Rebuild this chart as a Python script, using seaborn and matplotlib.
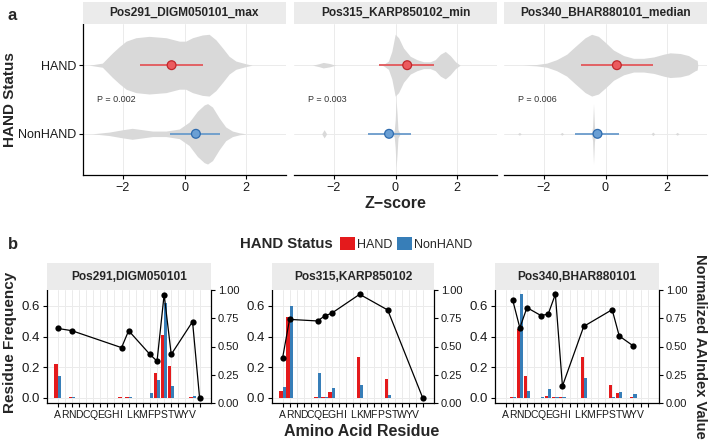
import numpy as np
import pandas as pd
import matplotlib.pyplot as plt
import seaborn as sns
from matplotlib.patches import Patch

sns.set_theme(style="white")
plt.rcParams['font.family'] = ['Liberation Sans', 'DejaVu Sans']

W, H = 710, 442

# ---------------- panel a: z-score violins ----------------
features = ["Pos291_DIGM050101_max", "Pos315_KARP850102_min", "Pos340_BHAR880101_median"]
p_values = ["P = 0.002", "P = 0.003", "P = 0.006"]

# violin outlines: z position and half width (row units)
hand_z = [
    [-3.1, -2.67, -2.34, -2.12, -1.9, -1.58, -1.15, -0.6, -0.17, 0.04, 0.26, 0.58, 0.8, 1.02, 1.24, 1.45, 1.67, 2.0, 2.2],
    [-2.7, -2.5, -2.35, -2.15, -1.95, -0.45, -0.39, -0.23, -0.12, -0.01, 0.1, 0.26, 0.48, 0.7, 0.91, 1.13, 1.29, 1.46, 1.62, 1.78, 1.95, 2.1],
    [-2.67, -2.24, -1.91, -1.59, -1.26, -0.99, -0.66, -0.45, -0.23, 0.0, 0.26, 0.59, 0.91, 1.24, 1.57, 1.89, 2.1, 2.43, 2.7, 2.92, 2.98, 3.0],
]
hand_w = [
    [0, 0.03, 0.18, 0.27, 0.35, 0.40, 0.42, 0.40, 0.35, 0.35, 0.40, 0.44, 0.45, 0.37, 0.25, 0.13, 0.06, 0.02, 0],
    [0, 0.02, 0.04, 0.025, 0, 0, 0.01, 0.06, 0.2, 0.45, 0.40, 0.25, 0.13, 0.08, 0.05, 0.05, 0.08, 0.16, 0.2, 0.14, 0.05, 0],
    [0, 0.01, 0.03, 0.08, 0.16, 0.27, 0.40, 0.45, 0.42, 0.33, 0.22, 0.14, 0.10, 0.10, 0.12, 0.16, 0.18, 0.17, 0.14, 0.08, 0.07, 0],
]
nonhand_z = [
    [-3.0, -2.45, -2.0, -1.7, -1.37, -1.04, -0.6, -0.17, 0.15, 0.42, 0.64, 0.75, 0.91, 1.13, 1.34, 1.56, 1.78, 2.0],
    [-2.4, -2.32, -2.24, -0.15, -0.08, -0.04, -0.01, 0.02, 0.05, 0.08, 0.14, 0.2],
    [-2.86, -2.8, -2.74, -1.48, -1.42, -1.36, -0.5, -0.45, -0.42, -0.39, -0.36, -0.33, -0.28,
     1.48, 1.54, 1.6, 2.27, 2.33, 2.39],
]
nonhand_w = [
    [0, 0.025, 0.06, 0.08, 0.06, 0.04, 0.04, 0.07, 0.17, 0.33, 0.42, 0.44, 0.39, 0.23, 0.10, 0.04, 0.015, 0],
    [0, 0.06, 0, 0, 0.01, 0.05, 0.2, 0.49, 0.3, 0.06, 0.01, 0],
    [0, 0.02, 0, 0, 0.02, 0, 0, 0.02, 0.1, 0.44, 0.12, 0.02, 0,
     0, 0.025, 0, 0, 0.02, 0],
]

# point estimate with interval
hand_mid = [-0.42, 0.38, 0.37]
hand_lo = [-1.44, -0.53, -0.80]
hand_hi = [0.61, 1.26, 1.53]
nonhand_mid = [0.37, -0.21, -0.26]
nonhand_lo = [-0.48, -0.91, -0.98]
nonhand_hi = [1.16, 0.50, 0.43]

# ---------------- panel b: residue frequencies ----------------
residues = list("ARNDCQEGHILKMFPSTWYV") + ["-"]
residue_labels = list("ARNDCQEGHILKMFPSTWYV") + [""]
sites = ["Pos291,DIGM050101", "Pos315,KARP850102", "Pos340,BHAR880101"]

hand_freq = [
    {"A": 0.22, "N": 0.004, "I": 0.004, "L": 0.003, "F": 0.002, "P": 0.16, "S": 0.41, "T": 0.21, "V": 0.004},
    {"A": 0.045, "R": 0.53, "Q": 0.003, "E": 0.004, "G": 0.039, "K": 0.267, "S": 0.125},
    {"R": 0.003, "N": 0.45, "D": 0.145, "Q": 0.002, "E": 0.013, "G": 0.003, "H": 0.003,
     "K": 0.267, "S": 0.084, "T": 0.03, "Y": 0.003},
]
nonhand_freq = [
    {"A": 0.14, "N": 0.003, "I": 0.002, "L": 0.004, "F": 0.032, "P": 0.12, "S": 0.62, "T": 0.08, "V": 0.015},
    {"A": 0.071, "R": 0.60, "Q": 0.161, "E": 0.004, "G": 0.067, "K": 0.084, "S": 0.019},
    {"R": 0.003, "N": 0.68, "D": 0.045, "Q": 0.004, "E": 0.06, "G": 0.003, "H": 0.004,
     "K": 0.129, "S": 0.003, "T": 0.037, "Y": 0.026},
]
aaindex = [
    {"A": 0.66, "N": 0.64, "I": 0.49, "L": 0.64, "F": 0.43, "P": 0.37, "S": 0.96, "T": 0.43, "V": 0.72, "-": 0.04},
    {"A": 0.395, "R": 0.74, "Q": 0.726, "E": 0.77, "G": 0.794, "K": 0.962, "S": 0.823, "-": 0.044},
    {"R": 0.909, "N": 0.665, "D": 0.844, "Q": 0.773, "E": 0.788, "G": 0.962, "H": 0.15,
     "K": 0.678, "S": 0.826, "T": 0.593, "Y": 0.504},
]

bar_colors = {"HAND": "#E41A1C", "NonHAND": "#377EB8"}
pt_fill = {"HAND": "#EC5B5E", "NonHAND": "#6A9FD4"}
pt_edge = ["#C0282C", "#2E6BAE"]
line_cols = ["#E2585B", "#6A9BCB"]
grid_col = "#EBEBEB"
strip_col = "#EBEBEB"

fig = plt.figure(figsize=(W / 100, H / 100), dpi=100)


def px_axes(x0, y0, x1, y1):
    return fig.add_axes([x0 / W, 1 - y1 / H, (x1 - x0) / W, (y1 - y0) / H])


def ftext(x, y, s, **kw):
    fig.text(x / W, 1 - y / H, s, **kw)


def strip(x0, y0, x1, y1, label):
    sax = px_axes(x0, y0, x1, y1)
    sax.set_facecolor(strip_col)
    sax.set_xticks([])
    sax.set_yticks([])
    for sp in sax.spines.values():
        sp.set_visible(False)
    sax.text(0.5, 0.5, label, ha="center", va="center", fontsize=8.6,
             fontweight="bold", transform=sax.transAxes)


# ---- top row ----
top_x = [(83, 286), (294, 497), (504, 707)]
for i, (x0, x1) in enumerate(top_x):
    ax = px_axes(x0, 24, x1, 175)
    strip(x0, 2, x1, 24, features[i])
    ax.set_xlim(-3.3, 3.3)
    ax.set_ylim(1.6, -0.6)
    for z, w, row in [(hand_z[i], hand_w[i], 0), (nonhand_z[i], nonhand_w[i], 1)]:
        z = np.array(z)
        w = np.array(w)
        ax.fill_between(z, row - w, row + w, color="#D9D9D9", lw=0, zorder=1)
    ax.hlines([0, 1], [hand_lo[i], nonhand_lo[i]], [hand_hi[i], nonhand_hi[i]],
              colors=line_cols, lw=1.3, zorder=2)
    pts = pd.DataFrame({"z": [hand_mid[i], nonhand_mid[i]], "row": [0, 1],
                        "status": ["HAND", "NonHAND"]})
    sns.scatterplot(data=pts, x="z", y="row", hue="status", palette=pt_fill,
                    edgecolor=pt_edge, linewidth=0.9, s=40, legend=False, ax=ax, zorder=3)
    ax.text(-2.85, 0.5, p_values[i], fontsize=6.5, color="#333333", va="center", ha="left")
    ax.set_xticks([-2, 0, 2])
    ax.set_xticklabels(["\u22122", "0", "2"])
    ax.set_yticks([0, 1])
    ax.grid(True, color=grid_col, lw=0.7)
    ax.set_axisbelow(True)
    ax.set_xlabel("")
    ax.set_ylabel("")
    for name, sp in ax.spines.items():
        sp.set_visible(name == "bottom" or (name == "left" and i == 0))
        sp.set_color("black")
        sp.set_linewidth(0.9)
    ax.tick_params(axis="both", length=3, width=0.8, color="black", labelsize=9,
                   labelcolor="#1a1a1a", bottom=True, left=(i == 0), pad=2)
    if i == 0:
        ax.set_yticklabels(["HAND", "NonHAND"])
    else:
        ax.set_yticklabels([])

ftext(8, 15, "a", fontsize=12, fontweight="bold", va="center")
ftext(10, 100, "HAND Status", fontsize=11, fontweight="bold", rotation=90, ha="center", va="center")
ftext(395, 204, "Z\u2212score", fontsize=11.5, fontweight="bold", ha="center", va="center")

# ---- bottom row ----
bot_x = [(47, 211), (272, 434), (495, 659)]
for i, (x0, x1) in enumerate(bot_x):
    ax = px_axes(x0, 290, x1, 403)
    strip(x0, 263, x1, 290, sites[i])
    rows = [{"residue": r, "status": "HAND", "freq": v} for r, v in hand_freq[i].items()]
    rows += [{"residue": r, "status": "NonHAND", "freq": v} for r, v in nonhand_freq[i].items()]
    df = pd.DataFrame(rows)
    sns.barplot(data=df, x="residue", y="freq", hue="status", order=residues,
                hue_order=["HAND", "NonHAND"], palette=bar_colors, width=0.9, gap=0,
                saturation=1, legend=False, ax=ax, zorder=2, linewidth=0, edgecolor="none")
    ax.set_ylim(-0.033, 0.704)
    ax.set_yticks([0, 0.2, 0.4, 0.6])
    ax.set_yticklabels(["0.0", "0.2", "0.4", "0.6"])
    ax.set_xticks(range(len(residues)))
    ax.set_xticklabels(residue_labels)
    ax.grid(True, color=grid_col, lw=0.7)
    ax.set_axisbelow(True)
    ax.set_xlabel("")
    ax.set_ylabel("")
    for name, sp in ax.spines.items():
        sp.set_visible(name in ("left", "bottom"))
        sp.set_color("black")
        sp.set_linewidth(0.9)
    ax.tick_params(axis="y", length=3, width=0.8, color="black", labelsize=9.5,
                   labelcolor="#1a1a1a", left=True, pad=2)
    ax.tick_params(axis="x", length=3, width=0.8, color="black", labelsize=7.5,
                   labelcolor="#1a1a1a", bottom=True, pad=2)

    ax2 = ax.twinx()
    line_df = pd.DataFrame({"pos": [residues.index(r) for r in aaindex[i]],
                            "value": list(aaindex[i].values())})
    sns.lineplot(data=line_df, x="pos", y="value", ax=ax2, color="black", lw=0.9,
                 marker="o", markersize=4.5, markeredgecolor="black", markeredgewidth=0)
    ax2.set_ylim(0, 1)
    ax2.set_yticks([0, 0.25, 0.5, 0.75, 1.0])
    ax2.set_yticklabels(["0.00", "0.25", "0.50", "0.75", "1.00"])
    ax2.set_ylabel("")
    ax2.set_xlabel("")
    ax2.grid(False)
    for name, sp in ax2.spines.items():
        sp.set_visible(name == "right")
        sp.set_color("black")
        sp.set_linewidth(0.9)
    ax2.tick_params(axis="y", length=3, width=0.8, color="black", labelsize=8,
                    labelcolor="#1a1a1a", right=True, pad=2)
    ax.set_xlim(-1.5, 21.6)

ftext(8, 244, "b", fontsize=12, fontweight="bold", va="center")
ftext(10, 342, "Residue Frequency", fontsize=11, fontweight="bold", rotation=90, ha="center", va="center")
ftext(362, 432, "Amino Acid Residue", fontsize=11.5, fontweight="bold", ha="center", va="center")
ftext(700, 346, "Normalized AAIndex Value", fontsize=10.5, fontweight="bold", rotation=270,
      ha="center", va="center")

# legend
ftext(240, 244, "HAND Status", fontsize=10.8, fontweight="bold", ha="left", va="center")
handles = [Patch(facecolor=bar_colors[k], edgecolor="none", label=k) for k in ["HAND", "NonHAND"]]
fig.legend(handles=handles, ncol=2, loc="center left", bbox_to_anchor=(340 / W, 1 - 244 / H),
           frameon=False, fontsize=9, handlelength=1.2, handleheight=1.2, handletextpad=0.2,
           columnspacing=0.3, borderpad=0, borderaxespad=0)

fig.savefig("out.png", dpi=100)
